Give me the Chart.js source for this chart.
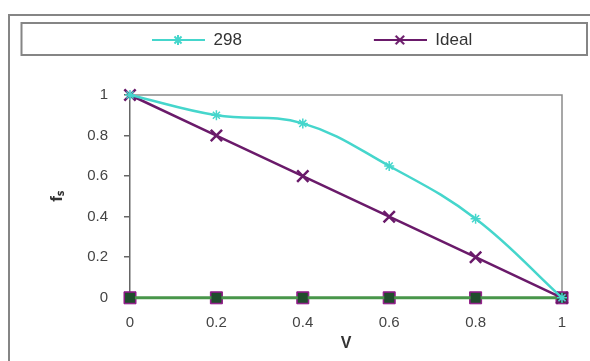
<!DOCTYPE html>
<html>
<head>
<meta charset="utf-8">
<script src="https://cdn.jsdelivr.net/npm/chart.js"></script>
<style>
  html, body { margin: 0; padding: 0; background: #fff; }
  #wrap { width: 590px; height: 361px; }
</style>
</head>
<body>
<div id="wrap"><canvas id="chart" width="590" height="361"></canvas></div>
<script>
// chart values
const vValues = [0, 0.2, 0.4, 0.6, 0.8, 1];
const series298 = [1, 0.9, 0.86, 0.65, 0.39, 0];
const seriesIdeal = [1, 0.8, 0.6, 0.4, 0.2, 0];
const seriesZeroGreen = [0, 0, 0, 0, 0, 0];
const seriesZeroMagenta = [0, 0, 0, 0, 0, 0];
const legendNames = ['298', 'Ideal'];

const FONT = "'Liberation Sans', Arial, sans-serif";
const CYAN = '#45d6cc';
const PURPLE = '#6a1a6a';

const toPoints = (ys) => vValues.map((x, i) => ({ x: x, y: ys[i] }));

// legend symbol: short line with a marker, drawn into a small canvas
function legendSymbol(color, style) {
    const c = document.createElement('canvas');
    c.width = 175; c.height = 16;
    const g = c.getContext('2d');
    g.strokeStyle = color;
    g.lineWidth = 2;
    g.beginPath(); g.moveTo(122, 8); g.lineTo(175, 8); g.stroke();
    Chart.helpers.drawPoint(g, { pointStyle: style, radius: style === 'star' ? 5 : 6, borderWidth: 2 }, 148, 8);
    return c;
}

// frames: outer border, legend box, plot box
const framePlugin = {
    id: 'frames',
    beforeDraw(chart) {
        const ctx = chart.ctx;
        ctx.save();
        ctx.fillStyle = '#fff';
        ctx.fillRect(0, 0, chart.width, chart.height);
        ctx.strokeStyle = '#858585';
        ctx.lineWidth = 2;
        ctx.strokeRect(9, 15, 700, 500);
        ctx.strokeRect(21.5, 23, 565.5, 32);
        ctx.restore();
    },
    beforeDatasetsDraw(chart) {
        const a = chart.chartArea;
        const ctx = chart.ctx;
        ctx.save();
        ctx.strokeStyle = '#8a8a8a';
        ctx.lineWidth = 1.5;
        ctx.beginPath();
        ctx.moveTo(a.left, a.top);
        ctx.lineTo(a.right, a.top);
        ctx.lineTo(a.right, a.bottom);
        ctx.stroke();
        ctx.restore();
    }
};

const ctx = document.getElementById('chart').getContext('2d');
const chart = new Chart(ctx, {
    type: 'line',
    data: {
        datasets: [
            {
                label: legendNames[0],
                data: toPoints(series298),
                borderColor: CYAN,
                backgroundColor: CYAN,
                borderWidth: 2.5,
                tension: 0.4,
                pointStyle: 'star',
                pointRadius: 5,
                pointBorderWidth: 1.5,
                clip: false
            },
            {
                label: legendNames[1],
                data: toPoints(seriesIdeal),
                borderColor: PURPLE,
                backgroundColor: PURPLE,
                borderWidth: 2.5,
                tension: 0,
                pointStyle: 'crossRot',
                pointRadius: 8,
                pointBorderWidth: 2.5,
                clip: false
            },
            {
                label: 'zero',
                data: toPoints(seriesZeroGreen),
                borderColor: '#48964a',
                backgroundColor: '#1f4d2c',
                pointBorderColor: '#1f4d2c',
                borderWidth: 3,
                pointStyle: 'rect',
                pointRadius: 7,
                pointBorderWidth: 0,
                clip: false
            },
            {
                label: 'zero2',
                data: toPoints(seriesZeroMagenta),
                borderColor: '#8e1a86',
                backgroundColor: '#8e1a86',
                showLine: false,
                pointStyle: 'rect',
                pointRadius: 8.5,
                clip: false
            }
        ]
    },
    options: {
        responsive: false,
        animation: false,
        layout: { padding: { left: 20, right: 28, top: 21.5, bottom: 0 } },
        plugins: {
            tooltip: { enabled: false },
            title: {
                display: true,
                text: '',
                weight: 500,
                padding: { top: 24.5, bottom: 0 },
                font: { size: 10 }
            },
            legend: {
                display: true,
                align: 'start',
                labels: {
                    usePointStyle: true,
                    pointStyleWidth: 175,
                    padding: 10,
                    color: '#333',
                    font: { family: FONT, size: 17 },
                    filter: (item) => item.datasetIndex < 2,
                    generateLabels(chart) {
                        const items = Chart.defaults.plugins.legend.labels.generateLabels(chart);
                        items.forEach((it) => {
                            if (it.datasetIndex === 0) it.pointStyle = legendSymbol(CYAN, 'star');
                            if (it.datasetIndex === 1) it.pointStyle = legendSymbol(PURPLE, 'crossRot');
                        });
                        return items;
                    }
                }
            }
        },
        scales: {
            x: {
                type: 'linear',
                min: 0,
                max: 1,
                grid: { display: false },
                border: { display: false },
                ticks: {
                    stepSize: 0.2,
                    padding: 8,
                    color: '#444',
                    font: { family: FONT, size: 15 },
                    callback: (v) => String(Math.round(v * 10) / 10)
                },
                title: {
                    display: true,
                    text: 'V',
                    color: '#333',
                    padding: { top: -6, bottom: 8 },
                    font: { family: FONT, size: 16, weight: 'bold' }
                }
            },
            y: {
                min: 0,
                max: 1,
                afterFit(scale) { scale.width = 110; },
                grid: { drawOnChartArea: false, tickLength: 6, color: '#666', lineWidth: 1.5 },
                border: { color: '#666', width: 1.5 },
                ticks: {
                    stepSize: 0.2,
                    padding: 16,
                    color: '#444',
                    font: { family: FONT, size: 15 },
                    callback: (v) => String(Math.round(v * 10) / 10)
                },
                title: {
                    display: true,
                    text: 'fₛ',
                    color: '#333',
                    padding: { top: 27, bottom: 0 },
                    font: { family: FONT, size: 17, weight: 'bold' }
                }
            }
        }
    },
    plugins: [framePlugin]
});
</script>
</body>
</html>
